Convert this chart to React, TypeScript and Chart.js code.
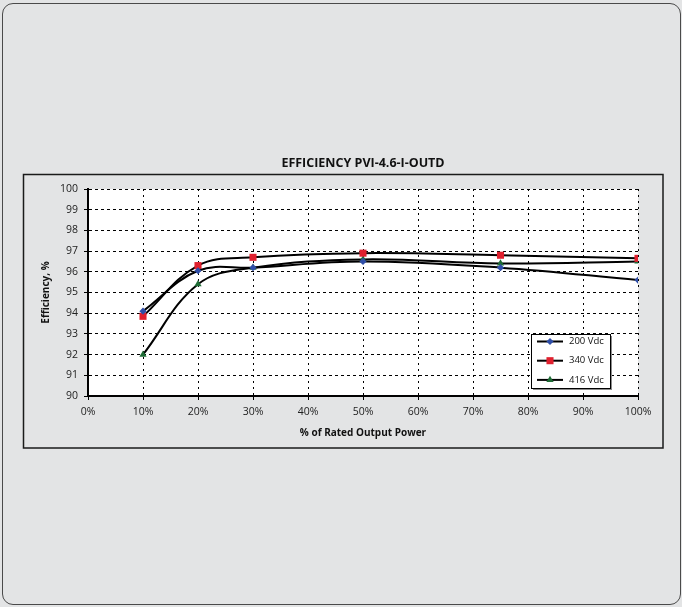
import React, { useEffect, useRef } from "react";
import { Chart, registerables } from "chart.js";

Chart.register(...registerables);

// ---- data ----
const chartTitle = "EFFICIENCY PVI-4.6-I-OUTD";
const xAxisTitle = "% of Rated Output Power";
const yAxisTitle = "Efficiency, %";
const categories = [10, 20, 30, 50, 75, 100]; // % of rated output power
const seriesLabels = ["200 Vdc", "340 Vdc", "416 Vdc"];
const series200 = [94.1, 96.05, 96.2, 96.5, 96.2, 95.6];
const series340 = [93.85, 96.3, 96.7, 96.9, 96.8, 96.65];
const series416 = [92.0, 95.4, 96.2, 96.6, 96.4, 96.5];
const xTickValues = [0, 10, 20, 30, 40, 50, 60, 70, 80, 90, 100];
const yTickValues = [90, 91, 92, 93, 94, 95, 96, 97, 98, 99, 100];

const FONT = "'Open Sans', 'DejaVu Sans', sans-serif";

const seriesColors = ["#2f4ea8", "#e0202e", "#1d6b34"];
const seriesStyles = ["rectRot", "rect", "triangle"];
const seriesRadii = [3.6, 5, 4.2];

function drawMarker(ctx: CanvasRenderingContext2D, style: string, x: number, y: number, r: number, color: string) {
  ctx.save();
  ctx.fillStyle = color;
  ctx.beginPath();
  if (style === "rect") {
    const s = Math.SQRT1_2 * r;
    ctx.rect(x - s, y - s, 2 * s, 2 * s);
  } else if (style === "rectRot") {
    ctx.moveTo(x, y - r);
    ctx.lineTo(x + r, y);
    ctx.lineTo(x, y + r);
    ctx.lineTo(x - r, y);
    ctx.closePath();
  } else {
    ctx.moveTo(x, y - r);
    ctx.lineTo(x + r * Math.sin(Math.PI / 3), y + r / 2);
    ctx.lineTo(x - r * Math.sin(Math.PI / 3), y + r / 2);
    ctx.closePath();
  }
  ctx.fill();
  ctx.restore();
}

const framePlugin = {
  id: "frameAndPlot",
  beforeDraw(chart: any) {
    const { ctx, chartArea } = chart;
    ctx.save();
    ctx.fillStyle = "#ffffff";
    ctx.fillRect(chartArea.left, chartArea.top, chartArea.right - chartArea.left, chartArea.bottom - chartArea.top);
    ctx.strokeStyle = "#1a1a1a";
    ctx.lineWidth = 1.5;
    ctx.strokeRect(3.5, 26.5, 639.5, 273.5);
    ctx.restore();
  },
};

const boxLegendPlugin = {
  id: "boxLegend",
  afterDraw(chart: any) {
    const { ctx, chartArea } = chart;
    const w = 79;
    const h = 54;
    const x = Math.round(chartArea.right - 28 - w);
    const y = Math.round(chartArea.bottom - 8 - h);
    ctx.save();
    ctx.fillStyle = "#8c8c8c";
    ctx.fillRect(x + 2, y + 2, w, h);
    ctx.fillStyle = "#ffffff";
    ctx.fillRect(x, y, w, h);
    ctx.strokeStyle = "#000";
    ctx.lineWidth = 1;
    ctx.strokeRect(x + 0.5, y + 0.5, w, h);
    chart.data.datasets.forEach((ds: any, i: number) => {
      const cy = y + 7.5 + i * 19.2;
      ctx.strokeStyle = "#000";
      ctx.lineWidth = 2;
      ctx.beginPath();
      ctx.moveTo(x + 6, cy);
      ctx.lineTo(x + 32, cy);
      ctx.stroke();
      drawMarker(ctx, seriesStyles[i], x + 19, cy, seriesRadii[i], seriesColors[i]);
      ctx.fillStyle = "#111";
      ctx.font = `9.5px ${FONT}`;
      ctx.textAlign = "left";
      ctx.textBaseline = "middle";
      ctx.fillText(ds.label, x + 38, cy);
    });
    ctx.restore();
  },
};

export default function App() {
  const canvasRef = useRef<HTMLCanvasElement | null>(null);

  useEffect(() => {
    if (!canvasRef.current) return;
    const allSeries = [series200, series340, series416];
    const chart = new Chart(canvasRef.current, {
      type: "line",
      data: {
        datasets: allSeries.map((vals, i) => ({
          label: seriesLabels[i],
          data: categories.map((c, j) => ({ x: c, y: vals[j] })),
          borderColor: "#000",
          borderWidth: 2,
          tension: 0.38,
          fill: false,
          pointStyle: seriesStyles[i] as any,
          pointRadius: seriesRadii[i],
          pointBackgroundColor: seriesColors[i],
          pointBorderColor: seriesColors[i],
          pointBorderWidth: 0,
        })),
      },
      options: {
        animation: false,
        responsive: false,
        events: [],
        layout: { padding: { top: 8, left: 3, right: 28, bottom: 4 } },
        plugins: {
          legend: { display: false },
          tooltip: { enabled: false },
          title: {
            display: true,
            fullSize: false,
            text: chartTitle,
            color: "#111",
            font: { family: FONT, size: 12.5, weight: "bold" },
            padding: { top: 0, bottom: 18 },
          },
        },
        scales: {
          x: {
            type: "linear",
            min: 0,
            max: 100,
            afterBuildTicks: (s: any) => {
              s.ticks = xTickValues.map((v) => ({ value: v }));
            },
            afterFit: (s: any) => {
              s.height = 52;
            },
            ticks: {
              color: "#222",
              font: { family: FONT, size: 10.5 },
              padding: 6,
              maxRotation: 0,
              autoSkip: false,
              callback: (v: any) => `${v}%`,
            },
            grid: { color: "#000", lineWidth: 1, tickLength: 4, tickColor: "#000" },
            border: { display: true, color: "#000", width: 2, dash: [2, 4] },
            title: {
              display: true,
              text: xAxisTitle,
              color: "#111",
              font: { family: FONT, size: 10, weight: "bold" },
              padding: { top: 4, bottom: 9 },
            },
          },
          y: {
            type: "linear",
            min: 90,
            max: 100,
            afterBuildTicks: (s: any) => {
              s.ticks = yTickValues.map((v) => ({ value: v }));
            },
            afterFit: (s: any) => {
              s.width = 65;
            },
            ticks: {
              color: "#222",
              font: { family: FONT, size: 10.5 },
              padding: 6,
              autoSkip: false,
            },
            grid: { color: "#000", lineWidth: 1, tickLength: 4, tickColor: "#000" },
            border: { display: true, color: "#000", width: 2, dash: [3, 3] },
            title: {
              display: true,
              text: yAxisTitle,
              color: "#111",
              font: { family: FONT, size: 10, weight: "bold" },
              padding: { top: 17, bottom: 4 },
            },
          },
        },
      },
      plugins: [framePlugin, boxLegendPlugin],
    } as any);
    return () => chart.destroy();
  }, []);

  return (
    <div
      style={{
        position: "absolute",
        left: 0,
        top: 0,
        width: 682,
        height: 607,
        background: "#e3e4e5",
        overflow: "hidden",
      }}
    >
      <div
        style={{
          position: "absolute",
          left: 2,
          top: 3,
          width: 679,
          height: 602,
          boxSizing: "border-box",
          border: "1.5px solid #4a4a4a",
          borderRadius: 11,
        }}
      />
      <canvas
        ref={canvasRef}
        width={646}
        height={304}
        style={{ position: "absolute", left: 20, top: 148, width: 646, height: 304 }}
      />
    </div>
  );
}
